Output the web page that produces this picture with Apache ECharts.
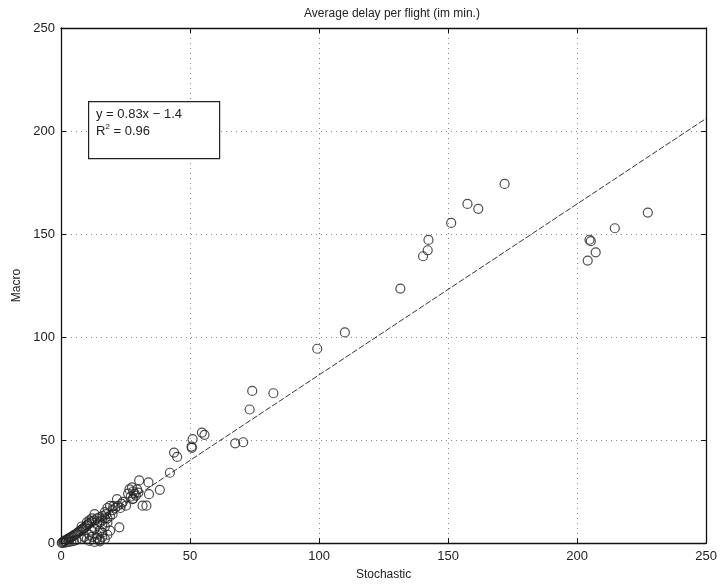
<!DOCTYPE html>
<html>
<head>
<meta charset="utf-8">
<script src="https://cdn.jsdelivr.net/npm/echarts@6/dist/echarts.min.js"></script>
<style>html,body{margin:0;padding:0;background:#fff;}#c{width:720px;height:586px;}</style>
</head>
<body>
<div id="c"></div>
<script>
const titleText = 'Average delay per flight (im min.)';
const xName = 'Stochastic';
const yName = 'Macro';
const xTicks = [0, 50, 100, 150, 200, 250];
const yTicks = [0, 50, 100, 150, 200, 250];
const fitSlope = 0.83;
const fitIntercept = -1.4;
const fitText = ['y = 0.83x \u2212 1.4', 'R{s|2} = 0.96'];

const stochastic = [
  171.9,157.5,161.7,151.2,142.4,142.1,140.3,131.5,
  227.4,214.6,204.8,205.3,207.2,204.1,
  110,99.3,74.1,82.3,73.1,67.5,70.6,
  55.6,54.6,51,50.6,50.7,43.8,45,42.2,
  30.3,33.9,34.1,38.3,21.7,20.3,25.2,31.6,33.1,27.7,22.6,17.5,
  26.5,27.5,28,28.5,29,27,28,29.5,30,26,24,23.5,
  0.5,1,1.5,2,2.5,3,3.5,4,4.5,5,5.5,6,6.5,7,7.5,8,8.5,9,9.5,10,10.5,11,12,13,14,15,16,
  10,12,14,15,16,17,18,13,11,9,8,6,5,4,3,2,1,0.3,
  14,15,16,17,18,19,20,20,21,22,23,13,12,11,10,8,17,18,19,16,15,12,11,
  13,15,17,18,19,14,16
];
const macro = [
  174.3,164.6,162.2,155.4,147.1,142.1,139.2,123.5,
  160.4,152.8,147.2,146.5,141.1,137.1,
  102.2,94.3,73.8,72.7,64.8,48.4,48.9,
  52.5,53.6,50.4,46.8,46.2,43.9,41.8,34.1,
  30.4,29.4,23.7,25.8,21.3,17.9,18.1,18.1,18.1,21.3,7.6,14,
  26,27,25,24,23,22.5,21.5,26,24.5,24,20,19,
  0.3,0.8,1,1.5,1.8,2.2,2.5,3,3.2,3.8,4,4.5,5,5.5,5.8,6.5,7,7.2,8,8.5,9,9.5,10.5,11,12,12.5,13,
  2,3,4,6,5,8,10,7,4,3,2,1.5,1,0.8,0.5,0.3,0.1,0,
  9,10,11,12,12,13,14,16,17,18,17,14,12,11,10,8,15,17,18,3,1.5,6,1,
  0.5,0.8,2,4,6,2.5,9
];

const pts = stochastic.map((x, i) => [x, macro[i]]);
const xStart = -fitIntercept / fitSlope;
const xEnd = xTicks[xTicks.length - 1];
const fitLine = [[xStart, fitSlope * xStart + fitIntercept], [xEnd, fitSlope * xEnd + fitIntercept]];

const font = "'Liberation Sans', Arial, Helvetica, sans-serif";
const chart = echarts.init(document.getElementById('c'));
const axisCommon = {
  min: 0, max: 250, interval: 50,
  axisLine: { show: true, onZero: false, lineStyle: { color: '#111', width: 1.3 } },
  axisTick: { show: true, inside: true, length: 5, lineStyle: { color: '#111' } },
  splitLine: { show: false },
};
chart.setOption({
  animation: false,
  backgroundColor: '#fff',
  title: {
    text: titleText, left: 387, top: 3, textAlign: 'center',
    textStyle: { fontFamily: font, fontSize: 12, fontWeight: 'normal', color: '#222' }
  },
  grid: { left: 61, right: 7, top: 28, bottom: 42, containLabel: false },
  xAxis: [
    Object.assign({}, axisCommon, {
      type: 'value', position: 'bottom',
      name: xName, nameLocation: 'middle', nameGap: 26,
      nameTextStyle: { fontFamily: font, fontSize: 12, color: '#222' },
      axisLabel: { fontFamily: font, fontSize: 13, color: '#222', margin: 7 },
      splitLine: { show: true, lineStyle: { color: '#888', type: [1, 4], width: 1 } }
    }),
    Object.assign({}, axisCommon, { type: 'value', position: 'top', axisLabel: { show: false } })
  ],
  yAxis: [
    Object.assign({}, axisCommon, {
      type: 'value', position: 'left',
      name: yName, nameLocation: 'middle', nameGap: 36,
      nameTextStyle: { fontFamily: font, fontSize: 12, color: '#222' },
      axisLabel: { fontFamily: font, fontSize: 13, color: '#222', margin: 6 },
      splitLine: { show: true, lineStyle: { color: '#888', type: [1, 4], width: 1 } }
    }),
    Object.assign({}, axisCommon, { type: 'value', position: 'right', axisLabel: { show: false } })
  ],
  series: [
    {
      type: 'scatter', data: pts, symbol: 'circle', symbolSize: 9,
      itemStyle: { color: 'rgba(0,0,0,0)', borderColor: '#222', borderWidth: 1.2 },
      z: 3
    },
    {
      type: 'line', data: fitLine, symbol: 'none',
      lineStyle: { color: '#333', width: 1, type: [6, 2] }, z: 2
    }
  ],
  graphic: [
    {
      type: 'rect', left: 88, top: 101, shape: { width: 131, height: 57 },
      style: { fill: '#fff', stroke: '#222', lineWidth: 1.2 }, z: 10
    },
    {
      type: 'text', left: 96, top: 106, z: 11,
      style: {
        text: fitText.join('\n'), fontFamily: font, fontSize: 13, fill: '#222', lineHeight: 17,
        rich: { s: { fontSize: 8, verticalAlign: 'top', padding: [0, 0, 7, 0], fontFamily: font, fill: '#222' } }
      }
    }
  ]
});
</script>
</body>
</html>
